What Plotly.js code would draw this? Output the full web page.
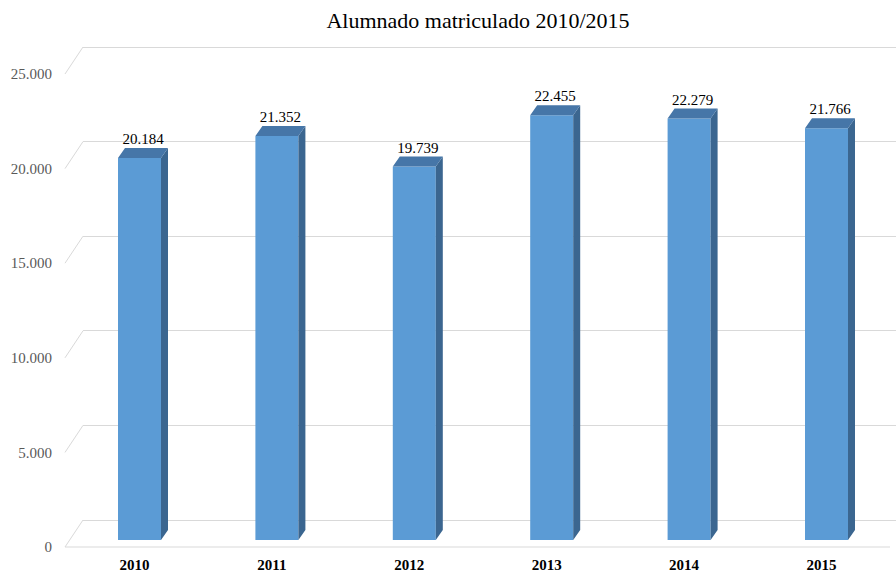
<!DOCTYPE html>
<html>
<head>
<meta charset="utf-8">
<script src="https://cdn.plot.ly/plotly-3.0.1.min.js"></script>
<style>
  body { margin: 0; background: #fff; }
  #chart { width: 896px; height: 574px; }
</style>
</head>
<body>
<div id="chart"></div>
<script>
// Alumnado matriculado por curso
const years = ["2010", "2011", "2012", "2013", "2014", "2015"];
const students = [20184, 21352, 19739, 22455, 22279, 21766];
const yTicks = [0, 5000, 10000, 15000, 20000, 25000];

const SERIF = "Liberation Serif";

// pseudo-3D geometry (pixels)
const W = 896, H = 574;
const plotTop = 40, plotBottom = 550, plotLeft = 83;
const pxPerUnit = 473 / 25000;
const backZero = 520, barZero = 540, frontZero = 547;
const catSpacing = 137.4, firstCat = 139.5;
const barW = 0.313;
const depthX = 7 / catSpacing;       // side depth in category units
const depthY = 10 / pxPerUnit;       // side depth in value units

const plotH = plotBottom - plotTop;
function rangeFor(zeroPx) {
  const lo = -(plotBottom - zeroPx) / pxPerUnit;
  return [lo, lo + plotH / pxPerUnit];
}
const xLo = -(firstCat - plotLeft) / catSpacing;
const xRange = [xLo, xLo + (W - plotLeft) / catSpacing];

const idx = years.map((_, i) => i);

// top and side faces of each bar
const topX = [], topY = [], sideX = [], sideY = [];
idx.forEach(i => {
  const v = students[i], l = i - barW / 2, r = i + barW / 2;
  topX.push(l, r, r + depthX, l + depthX, l, null);
  topY.push(v, v, v + depthY, v + depthY, v, null);
  sideX.push(r, r + depthX, r + depthX, r, r, null);
  sideY.push(0, depthY, v + depthY, v, 0, null);
});

const bars = {
  x: idx, y: students, type: "bar", width: barW,
  xaxis: "x", yaxis: "y2",
  marker: { color: "#5b9bd5", line: { width: 0 } },
  hoverinfo: "skip"
};
const tops = {
  x: topX, y: topY, xaxis: "x", yaxis: "y2", mode: "lines",
  fill: "toself", fillcolor: "#4676a8", line: { width: 0 }, hoverinfo: "skip"
};
const sides = {
  x: sideX, y: sideY, xaxis: "x", yaxis: "y2", mode: "lines",
  fill: "toself", fillcolor: "#3b6690", line: { width: 0 }, hoverinfo: "skip"
};
const labels = {
  x: idx.map(i => i + depthX / 2), y: students.map(v => v + depthY),
  customdata: students, xaxis: "x", yaxis: "y2",
  mode: "text", textposition: "top center",
  texttemplate: "%{customdata:,}", cliponaxis: false,
  textfont: { family: SERIF, size: 15, color: "#000" },
  hoverinfo: "skip"
};

// front floor edge and diagonal links between front labels and back wall
const leftPaper = (65 - plotLeft) / (W - plotLeft);
const shapes = yTicks.map(v => ({
  type: "line", xref: "paper", yref: "y3",
  x0: leftPaper, x1: 0, y0: v - (frontZero - backZero) / pxPerUnit, y1: v,
  line: { color: "#d9d9d9", width: 1 }
}));
shapes.push({
  type: "line", xref: "paper", yref: "y",
  x0: leftPaper, x1: (890 - plotLeft) / (W - plotLeft), y0: 0, y1: 0,
  line: { color: "#d9d9d9", width: 1 }
});

const layout = {
  width: W, height: H,
  margin: { l: plotLeft, r: 0, t: plotTop, b: H - plotBottom },
  paper_bgcolor: "#fff", plot_bgcolor: "#fff",
  separators: ",.",
  showlegend: false,
  font: { family: SERIF, color: "#595959" },
  title: {
    text: "Alumnado matriculado 2010/2015",
    x: 478 / W, xref: "container", y: 1 - 20 / H, yref: "container",
    xanchor: "center", yanchor: "middle",
    font: { family: SERIF, size: 22, color: "#000" }
  },
  xaxis: {
    range: xRange, tickvals: idx, ticktext: years,
    showgrid: false, zeroline: false, showline: false, ticks: "",
    ticklabelshift: -5, ticklabelstandoff: 4,
    tickfont: { family: SERIF, size: 15, color: "#000", weight: "bold" }
  },
  // front plane: tick labels
  yaxis: {
    range: rangeFor(frontZero), tickvals: yTicks, tickformat: ",",
    showgrid: false, zeroline: false, showline: false, ticks: "",
    ticklabelstandoff: 30,
    tickfont: { family: SERIF, size: 15, color: "#595959" }
  },
  // bars plane
  yaxis2: {
    range: rangeFor(barZero), overlaying: "y", visible: false
  },
  // back wall: gridlines
  yaxis3: {
    range: rangeFor(backZero), overlaying: "y", tickvals: yTicks,
    showticklabels: false, showgrid: true, gridcolor: "#d9d9d9", gridwidth: 1,
    zeroline: false, showline: false, ticks: ""
  },
  shapes: shapes
};

// empty trace so the back-wall axis draws its grid
const backWall = { x: [], y: [], xaxis: "x", yaxis: "y3", hoverinfo: "skip" };

Plotly.newPlot("chart", [backWall, bars, sides, tops, labels], layout, { displayModeBar: false });
</script>
</body>
</html>
